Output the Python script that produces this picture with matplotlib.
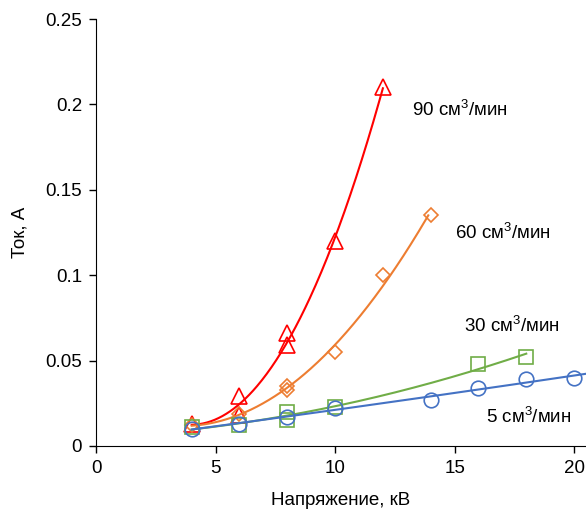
import numpy as np
import matplotlib.pyplot as plt

plt.rcParams['font.family'] = ['Liberation Sans', 'DejaVu Sans']
plt.rcParams['mathtext.fontset'] = 'custom'
plt.rcParams['mathtext.rm'] = 'Liberation Sans'
plt.rcParams['mathtext.it'] = 'Liberation Sans'

# Data
x_90 = [4, 6, 6, 8, 8, 10, 12]
y_90 = [0.013, 0.029, 0.018, 0.066, 0.059, 0.12, 0.21]
x_60 = [4, 6, 8, 8, 10, 12, 14]
y_60 = [0.012, 0.019, 0.035, 0.033, 0.055, 0.1, 0.135]
x_30 = [4, 6, 8, 8, 10, 16, 18]
y_30 = [0.011, 0.012, 0.02, 0.015, 0.023, 0.048, 0.052]
x_5 = [4, 6, 8, 10, 14, 16, 18, 20]
y_5 = [0.01, 0.013, 0.017, 0.022, 0.027, 0.034, 0.039, 0.04]

labels = [r'90 см$^\mathregular{3}$/мин', r'60 см$^\mathregular{3}$/мин',
          r'30 см$^\mathregular{3}$/мин', r'5 см$^\mathregular{3}$/мин']

series = [
    (x_90, y_90, '#FF0000', '^', 12.0, 3),
    (x_60, y_60, '#ED7D31', 'D', 13.9, 2),
    (x_30, y_30, '#70AD47', 's', 18.0, 2),
    (x_5, y_5, '#4472C4', 'o', 20.6, 2),
]
ms = {'^': 11, 'D': 7.5, 's': 9.5, 'o': 10.5}
fs = 13.5

fig = plt.figure(figsize=(5.86, 5.15), dpi=100)
ax = fig.add_axes([0.164, 0.134, 0.836, 0.829])

for xs, ys, col, mk, xend, deg in series:
    # trendline like the spreadsheet one
    coef = np.polyfit(xs, ys, deg)
    xx = np.linspace(4, xend, 200)
    ax.plot(xx, np.polyval(coef, xx), color=col, lw=1.5, clip_on=False)
    ax.plot(xs, ys, linestyle='none', marker=mk, markersize=ms[mk],
            markerfacecolor='none', markeredgecolor=col, markeredgewidth=1.2)

# series labels
ax.text(13.22, 0.197, labels[0], fontsize=fs, va='center')
ax.text(15.0, 0.125, labels[1], fontsize=fs, va='center')
ax.text(15.4, 0.070, labels[2], fontsize=fs, va='center')
ax.text(16.3, 0.017, labels[3], fontsize=fs, va='center')

ax.set_xlim(0, 20.5)
ax.set_ylim(0, 0.25)
ax.set_xticks([0, 5, 10, 15, 20])
ax.set_yticks([0, 0.05, 0.1, 0.15, 0.2, 0.25])
ax.set_yticklabels(['0', '0.05', '0.1', '0.15', '0.2', '0.25'])
ax.spines['top'].set_visible(False)
ax.spines['right'].set_visible(False)
ax.tick_params(labelsize=fs, length=5, width=1, direction='out', pad=5)
ax.set_xlabel('Напряжение, кВ', fontsize=fs, labelpad=11)
ax.set_ylabel('Ток, А', fontsize=fs, labelpad=12)

fig.savefig('out.png', dpi=100)
